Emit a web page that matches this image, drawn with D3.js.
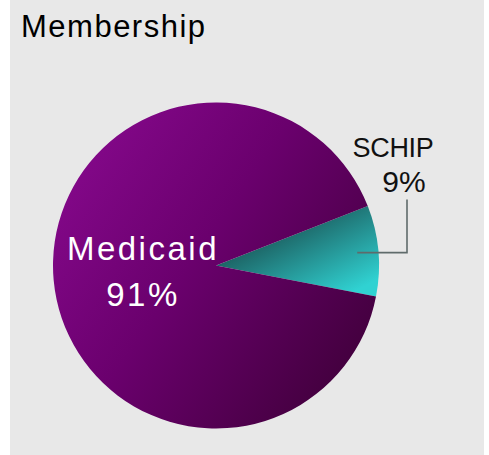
<!DOCTYPE html>
<html>
<head>
<meta charset="utf-8">
<script src="https://cdn.jsdelivr.net/npm/d3@7"></script>
<style>
  html, body { margin: 0; padding: 0; background: #ffffff; }
  svg { display: block; }
  text { font-family: "Liberation Sans", Arial, Helvetica, sans-serif; }
</style>
</head>
<body>
<script>
// Membership split between the two programs (percent)
const categories = ["SCHIP", "Medicaid"];
const shares = [9, 91];
const shareLabels = ["9%", "91%"];
const title = "Membership";

const W = 489, H = 455;
const cx = 216, cy = 265.5, R = 163;
const startDeg = 68.6;

const svg = d3.select("body").append("svg")
  .attr("width", W).attr("height", H);

// panel background
svg.append("rect")
  .attr("x", 10).attr("y", 0)
  .attr("width", 474).attr("height", H)
  .attr("fill", "#e8e8e8");

// gradients are given in the pie group's coordinates (origin at the pie centre)
const defs = svg.append("defs");
const gPurple = defs.append("linearGradient")
  .attr("id", "gradMedicaid")
  .attr("gradientUnits", "userSpaceOnUse")
  .attr("x1", -150).attr("y1", -100).attr("x2", 140).attr("y2", 100);
gPurple.append("stop").attr("offset", 0).attr("stop-color", "#84088a");
gPurple.append("stop").attr("offset", 0.45).attr("stop-color", "#6a006d");
gPurple.append("stop").attr("offset", 1).attr("stop-color", "#43003e");

const gTeal = defs.append("linearGradient")
  .attr("id", "gradSCHIP")
  .attr("gradientUnits", "userSpaceOnUse")
  .attr("x1", 90).attr("y1", -50).attr("x2", 130).attr("y2", 30);
gTeal.append("stop").attr("offset", 0).attr("stop-color", "#1c5f60");
gTeal.append("stop").attr("offset", 1).attr("stop-color", "#30d2d2");

const fills = { "SCHIP": "url(#gradSCHIP)", "Medicaid": "url(#gradMedicaid)" };

const rows = categories.map((c, i) => ({ name: c, value: shares[i], label: shareLabels[i] }));

const a0 = startDeg * Math.PI / 180;
const pie = d3.pie().value(d => d.value).sort(null)
  .startAngle(a0).endAngle(a0 + 2 * Math.PI);
const arcs = pie(rows);
const arc = d3.arc().innerRadius(0).outerRadius(R);

const g = svg.append("g").attr("transform", `translate(${cx},${cy})`);
g.selectAll("path.slice").data(arcs).join("path")
  .attr("class", "slice")
  .attr("d", arc)
  .attr("fill", d => fills[d.data.name]);

// polar helper (angle measured clockwise from 12 o'clock)
const polar = (ang, r) => [Math.sin(ang) * r, -Math.cos(ang) * r];
const mid = d => (d.startAngle + d.endAngle) / 2;

// Medicaid: label inside the slice
const med = arcs.find(d => d.data.name === "Medicaid");
const [mx, my] = polar(mid(med), R * 0.45);
const medText = g.append("text")
  .attr("x", mx).attr("y", my)
  .attr("text-anchor", "middle")
  .attr("fill", "#ffffff")
  .attr("font-size", 33)
  .attr("letter-spacing", 2.5);
medText.append("tspan").attr("x", mx).attr("dy", -12).text(med.data.name);
medText.append("tspan").attr("x", mx).attr("dy", 46).text(med.data.label);

// SCHIP: label outside with an elbow leader line
const sc = arcs.find(d => d.data.name === "SCHIP");
const [sx, sy] = polar(mid(sc), R * 0.87);
const elbowX = 191;
const topY = -66;
g.append("path")
  .attr("d", `M${sx},${sy}H${elbowX}V${topY}`)
  .attr("fill", "none")
  .attr("stroke", "#5f6b6b")
  .attr("stroke-width", 1.6);
const scText = g.append("text")
  .attr("text-anchor", "middle")
  .attr("fill", "#111111");
scText.append("tspan").attr("x", elbowX - 14).attr("y", topY - 43)
  .attr("font-size", 27).attr("letter-spacing", -0.3).text(sc.data.name);
scText.append("tspan").attr("x", elbowX - 3).attr("y", topY - 8)
  .attr("font-size", 30).text(sc.data.label);

// chart title
svg.append("text")
  .attr("x", 21).attr("y", 37)
  .attr("fill", "#000000")
  .attr("font-size", 31)
  .attr("letter-spacing", 1.5)
  .text(title);
</script>
</body>
</html>
